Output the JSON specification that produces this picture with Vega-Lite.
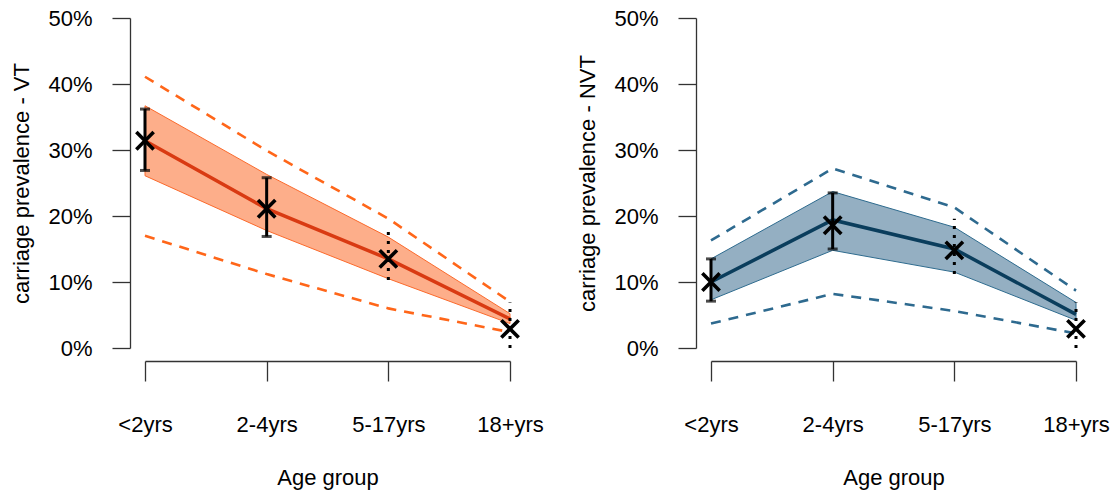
{
  "$schema": "https://vega.github.io/schema/vega-lite/v6.json",
  "autosize": {"type": "pad"},
  "padding": {"left": 10, "top": 7, "right": 0, "bottom": 8},
  "background": "white",
  "config": {
    "font": "Liberation Sans",
    "view": {"stroke": null},
    "axis": {
      "grid": false,
      "domainColor": "#333333",
      "tickColor": "#333333",
      "domainWidth": 1.3,
      "tickWidth": 1.3,
      "labelColor": "black",
      "titleColor": "black",
      "labelFontSize": 22,
      "titleFontSize": 22,
      "titleFontWeight": "normal",
      "labelFont": "Liberation Sans",
      "titleFont": "Liberation Sans"
    }
  },
  "bounds": "flush",
  "spacing": 201,
  "datasets": {
    "d": [
      {"panel": "VT", "age": "<2yrs", "lo": 0.261, "hi": 0.367, "med": 0.314, "plo": 0.170, "phi": 0.411, "obs": 0.314, "olo": 0.269, "ohi": 0.362, "bar": "solid"},
      {"panel": "VT", "age": "2-4yrs", "lo": 0.178, "hi": 0.263, "med": 0.211, "plo": 0.112, "phi": 0.299, "obs": 0.211, "olo": 0.169, "ohi": 0.258, "bar": "solid"},
      {"panel": "VT", "age": "5-17yrs", "lo": 0.105, "hi": 0.168, "med": 0.135, "plo": 0.060, "phi": 0.196, "obs": 0.135, "olo": 0.103, "ohi": 0.183, "bar": "dotted"},
      {"panel": "VT", "age": "18+yrs", "lo": 0.037, "hi": 0.052, "med": 0.044, "plo": 0.024, "phi": 0.070, "obs": 0.029, "olo": 0.0, "ohi": 0.069, "bar": "dotted"},
      {"panel": "NVT", "age": "<2yrs", "lo": 0.073, "hi": 0.135, "med": 0.100, "plo": 0.037, "phi": 0.163, "obs": 0.100, "olo": 0.071, "ohi": 0.135, "bar": "solid"},
      {"panel": "NVT", "age": "2-4yrs", "lo": 0.148, "hi": 0.237, "med": 0.194, "plo": 0.082, "phi": 0.272, "obs": 0.186, "olo": 0.150, "ohi": 0.235, "bar": "solid"},
      {"panel": "NVT", "age": "5-17yrs", "lo": 0.115, "hi": 0.183, "med": 0.150, "plo": 0.056, "phi": 0.213, "obs": 0.148, "olo": 0.112, "ohi": 0.196, "bar": "dotted"},
      {"panel": "NVT", "age": "18+yrs", "lo": 0.042, "hi": 0.069, "med": 0.051, "plo": 0.022, "phi": 0.087, "obs": 0.029, "olo": 0.0, "ohi": 0.069, "bar": "dotted"}
    ]
  },
  "hconcat": [
    {
      "width": 365,
      "height": 330,
      "data": {"name": "d"},
      "transform": [{"filter": "datum.panel === 'VT'"}],
      "encoding": {
        "x": {
          "field": "age", "type": "nominal",
          "sort": ["<2yrs", "2-4yrs", "5-17yrs", "18+yrs"],
          "scale": {"type": "point", "padding": 0},
          "axis": {"title": "Age group", "labelAngle": 0, "offset": 13, "tickSize": 20, "labelPadding": 33, "titlePadding": 32, "labelOverlap": false}
        }
      },
      "layer": [
        {
          "mark": {"type": "area", "fill": "#FDAE8A", "stroke": "#FB6A2C", "strokeWidth": 1},
          "encoding": {
            "y": {
              "field": "lo", "type": "quantitative",
              "scale": {"domain": [0, 0.5], "nice": false, "zero": false},
              "axis": {"title": "carriage prevalence - VT", "values": [0, 0.1, 0.2, 0.3, 0.4, 0.5], "format": ".0%", "offset": 15, "tickSize": 18, "labelPadding": 20, "titlePadding": 14}
            },
            "y2": {"field": "hi"}
          }
        },
        {
          "mark": {"type": "line", "color": "#FF6619", "strokeDash": [10, 8], "strokeWidth": 2.6},
          "encoding": {"y": {"field": "plo", "type": "quantitative", "title": "carriage prevalence - VT"}}
        },
        {
          "mark": {"type": "line", "color": "#FF6619", "strokeDash": [10, 8], "strokeWidth": 2.6},
          "encoding": {"y": {"field": "phi", "type": "quantitative", "title": "carriage prevalence - VT"}}
        },
        {
          "mark": {"type": "line", "color": "#D93A12", "strokeWidth": 3.5},
          "encoding": {"y": {"field": "med", "type": "quantitative", "title": "carriage prevalence - VT"}}
        },
        {
          "mark": {"type": "rule", "color": "black", "strokeWidth": 3},
          "encoding": {
            "y": {"field": "olo", "type": "quantitative", "title": "carriage prevalence - VT"},
            "y2": {"field": "ohi"},
            "strokeDash": {"field": "bar", "type": "nominal", "scale": {"domain": ["solid", "dotted"], "range": [[1, 0], [3, 6]]}, "legend": null}
          }
        },
        {
          "transform": [{"filter": "datum.bar === 'solid'"}],
          "mark": {"type": "tick", "color": "black", "size": 10, "thickness": 3, "orient": "horizontal"},
          "encoding": {"y": {"field": "olo", "type": "quantitative", "title": "carriage prevalence - VT"}}
        },
        {
          "transform": [{"filter": "datum.bar === 'solid'"}],
          "mark": {"type": "tick", "color": "black", "size": 10, "thickness": 3, "orient": "horizontal"},
          "encoding": {"y": {"field": "ohi", "type": "quantitative", "title": "carriage prevalence - VT"}}
        },
        {
          "mark": {"type": "point", "shape": "M-1,-1L1,1M-1,1L1,-1", "filled": false, "stroke": "black", "strokeWidth": 3.6, "size": 300, "opacity": 1},
          "encoding": {"y": {"field": "obs", "type": "quantitative", "title": "carriage prevalence - VT"}}
        }
      ]
    },
    {
      "width": 365,
      "height": 330,
      "data": {"name": "d"},
      "transform": [{"filter": "datum.panel === 'NVT'"}],
      "encoding": {
        "x": {
          "field": "age", "type": "nominal",
          "sort": ["<2yrs", "2-4yrs", "5-17yrs", "18+yrs"],
          "scale": {"type": "point", "padding": 0},
          "axis": {"title": "Age group", "labelAngle": 0, "offset": 13, "tickSize": 20, "labelPadding": 33, "titlePadding": 32, "labelOverlap": false}
        }
      },
      "layer": [
        {
          "mark": {"type": "area", "fill": "#94AFC2", "stroke": "#2E6B8E", "strokeWidth": 1},
          "encoding": {
            "y": {
              "field": "lo", "type": "quantitative",
              "scale": {"domain": [0, 0.5], "nice": false, "zero": false},
              "axis": {"title": "carriage prevalence - NVT", "values": [0, 0.1, 0.2, 0.3, 0.4, 0.5], "format": ".0%", "offset": 15, "tickSize": 18, "labelPadding": 20, "titlePadding": 14}
            },
            "y2": {"field": "hi"}
          }
        },
        {
          "mark": {"type": "line", "color": "#2E6A8F", "strokeDash": [10, 8], "strokeWidth": 2.6},
          "encoding": {"y": {"field": "plo", "type": "quantitative", "title": "carriage prevalence - NVT"}}
        },
        {
          "mark": {"type": "line", "color": "#2E6A8F", "strokeDash": [10, 8], "strokeWidth": 2.6},
          "encoding": {"y": {"field": "phi", "type": "quantitative", "title": "carriage prevalence - NVT"}}
        },
        {
          "mark": {"type": "line", "color": "#0A3D5C", "strokeWidth": 3.5},
          "encoding": {"y": {"field": "med", "type": "quantitative", "title": "carriage prevalence - NVT"}}
        },
        {
          "mark": {"type": "rule", "color": "black", "strokeWidth": 3},
          "encoding": {
            "y": {"field": "olo", "type": "quantitative", "title": "carriage prevalence - NVT"},
            "y2": {"field": "ohi"},
            "strokeDash": {"field": "bar", "type": "nominal", "scale": {"domain": ["solid", "dotted"], "range": [[1, 0], [3, 6]]}, "legend": null}
          }
        },
        {
          "transform": [{"filter": "datum.bar === 'solid'"}],
          "mark": {"type": "tick", "color": "black", "size": 10, "thickness": 3, "orient": "horizontal"},
          "encoding": {"y": {"field": "olo", "type": "quantitative", "title": "carriage prevalence - NVT"}}
        },
        {
          "transform": [{"filter": "datum.bar === 'solid'"}],
          "mark": {"type": "tick", "color": "black", "size": 10, "thickness": 3, "orient": "horizontal"},
          "encoding": {"y": {"field": "ohi", "type": "quantitative", "title": "carriage prevalence - NVT"}}
        },
        {
          "mark": {"type": "point", "shape": "M-1,-1L1,1M-1,1L1,-1", "filled": false, "stroke": "black", "strokeWidth": 3.6, "size": 300, "opacity": 1},
          "encoding": {"y": {"field": "obs", "type": "quantitative", "title": "carriage prevalence - NVT"}}
        }
      ]
    }
  ]
}
